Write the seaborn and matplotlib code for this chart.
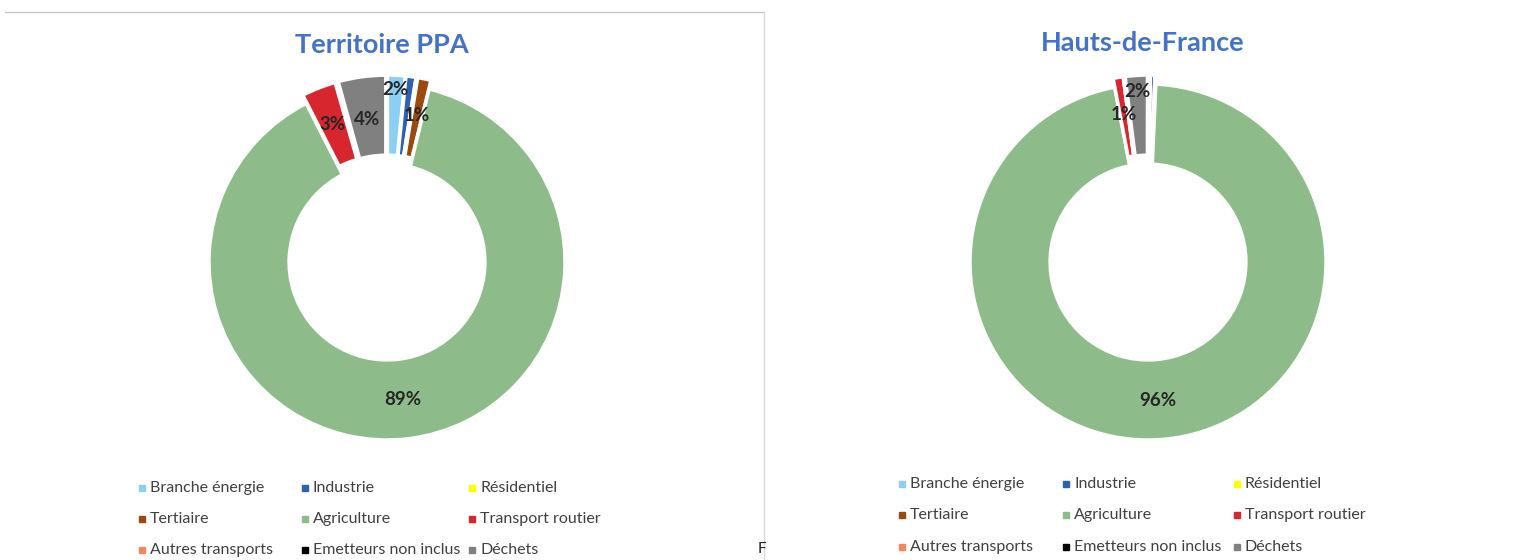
import numpy as np
import matplotlib
matplotlib.use("Agg")
import matplotlib.pyplot as plt
from matplotlib.lines import Line2D
from matplotlib.patches import Rectangle
import seaborn as sns

# données (en %)
categories = ["Branche énergie", "Industrie", "Résidentiel", "Tertiaire", "Agriculture",
              "Transport routier", "Autres transports", "Emetteurs non inclus", "Déchets"]
ppa_values = [1.6, 0.9, 0.1, 1.2, 88.6, 3.1, 0.1, 0.0, 4.3]
hdf_values = [0.2, 0.4, 0.0, 0.1, 96.0, 0.9, 0.0, 0.1, 2.0]
ppa_labels = ["2%", "", "", "1%", "89%", "3%", "", "", "4%"]
hdf_labels = ["", "", "", "", "96%", "1%", "", "", "2%"]
titles = ["Territoire PPA", "Hauts-de-France"]

colors = ["#8ccff5", "#2e62b0", "#ffff00", "#9a4a0e", "#8dbb8a",
          "#d7262e", "#f4875a", "#000000", "#808080"]

sns.set_theme(style="white")
plt.rcParams["font.family"] = ["Lato", "DejaVu Sans"]
palette = sns.color_palette(colors)

W, H = 1521, 560
fig = plt.figure(figsize=(W / 100, H / 100), dpi=100)


def px(x, y):
    # pixels (depuis le haut à gauche) -> fraction de figure
    return x / W, 1 - y / H


R = 178  # rayon extérieur en pixels
LIM = 1.3


def donut(cx, cy, values, labels, label_r, title, title_y, leg_x, leg_y):
    size = 2 * LIM * R
    x0, y0 = px(cx - size / 2, cy + size / 2)
    ax = fig.add_axes([x0, y0, size / W, size / H])
    explode = [0 if c == "Agriculture" else 0.05 for c in categories]
    wedges, _ = ax.pie(values, colors=palette, startangle=90, counterclock=False,
                       explode=explode,
                       wedgeprops=dict(width=0.45, edgecolor="white", linewidth=2.5))
    for w, lab, r in zip(wedges, labels, label_r):
        if lab:
            ang = np.deg2rad((w.theta1 + w.theta2) / 2)
            ax.text(r * np.cos(ang), r * np.sin(ang), lab, ha="center", va="center",
                    fontsize=13.5, fontweight="bold", color="#262626")
    ax.set_xlim(-LIM, LIM)
    ax.set_ylim(-LIM, LIM)

    tx, ty = px(cx - 5, title_y)
    fig.text(tx, ty, title, ha="center", va="center", fontsize=19.5,
             fontweight="bold", color="#4472c4")

    # légende sur 3 colonnes
    for i, cat in enumerate(categories):
        mx, my = leg_x[i % 3], leg_y[i // 3]
        rx, ry = px(mx - 3, my + 3)
        fig.patches.append(Rectangle((rx, ry), 6 / W, 6 / H, transform=fig.transFigure,
                                     color=colors[i], figure=fig))
        lx, ly = px(mx + 8, my)
        fig.text(lx, ly, cat, ha="left", va="center", fontsize=11.5, color="#404040")


donut(387, 262, ppa_values, ppa_labels, [0.97, 0, 0, 0.84, 0.78, 0.83, 0, 0, 0.81],
      titles[0], 45, [142, 305, 472], [488, 519, 550])
donut(1148, 262, hdf_values, hdf_labels, [0, 0, 0, 0, 0.78, 0.84, 0, 0, 0.96],
      titles[1], 43, [902, 1066, 1237], [484, 515, 547])

# bordure du premier graphique
fig.add_artist(Line2D([5 / W, 764 / W], [1 - 12 / H] * 2, transform=fig.transFigure,
                      color="#c8c8c8", lw=1))
fig.add_artist(Line2D([764 / W] * 2, [1 - 12 / H, 0], transform=fig.transFigure,
                      color="#d8d8d8", lw=1))
fx, fy = px(762, 549)
fig.text(fx, fy, "F", ha="center", va="center", fontsize=11, color="#222222")

fig.savefig("out.png", dpi=100, facecolor="white")
